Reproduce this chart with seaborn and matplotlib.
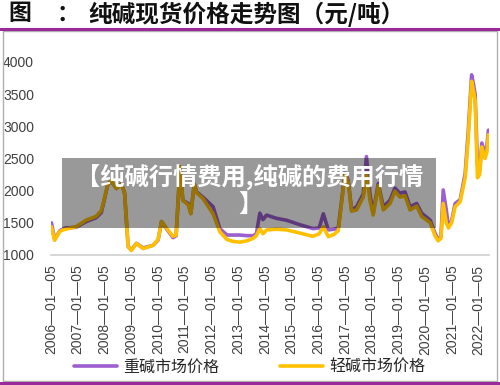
import matplotlib
matplotlib.use("Agg")
import matplotlib.pyplot as plt
from matplotlib.patches import Rectangle
from matplotlib.lines import Line2D
import pandas as pd
import seaborn as sns

# 纯碱现货价格（元/吨），读图估算
dates = [
    "2006-01-12", "2006-02-25", "2006-05-08", "2006-07-20", "2006-12-15",
    "2007-05-05", "2007-09-15", "2007-11-25", "2008-02-25", "2008-04-08",
    "2008-06-18", "2008-08-25", "2008-10-08", "2008-11-25", "2009-01-08",
    "2009-03-18", "2009-06-18", "2009-10-30", "2010-01-08", "2010-02-25",
    "2010-05-01", "2010-08-01", "2010-09-12", "2010-11-05", "2010-12-12",
    "2011-02-25", "2011-04-01", "2011-05-18", "2011-06-18", "2011-09-12",
    "2012-01-30", "2012-05-01", "2012-08-08", "2012-10-30", "2013-01-30",
    "2013-05-08", "2013-08-01", "2013-09-12", "2013-10-30", "2013-12-12",
    "2014-01-30", "2014-06-12", "2014-10-30", "2015-05-01", "2015-10-25",
    "2016-01-18", "2016-03-15", "2016-05-22", "2016-08-08", "2016-10-05",
    "2017-01-05", "2017-02-18", "2017-04-05", "2017-06-12", "2017-09-12",
    "2017-10-25", "2017-12-12", "2018-01-25", "2018-04-05", "2018-06-12",
    "2018-09-12", "2018-11-18", "2019-01-25", "2019-04-05", "2019-06-12",
    "2019-09-12", "2019-11-18", "2020-03-15", "2020-05-18", "2020-07-01",
    "2020-08-08", "2020-09-08", "2020-10-20", "2020-11-18", "2021-01-01",
    "2021-02-18", "2021-04-28", "2021-07-05", "2021-08-15", "2021-10-01",
    "2021-10-27", "2021-11-18", "2021-12-20", "2022-01-18", "2022-02-18",
    "2022-04-01", "2022-04-28", "2022-05-18",
]
heavy = [
    1500, 1240, 1380, 1420, 1430, 1520, 1580, 1660, 2110, 2140,
    2040, 2110, 1960, 1130, 1080, 1180, 1110, 1150, 1230, 1520,
    1410, 1270, 1300, 2370, 1850, 1800, 1650, 2100, 1980, 1900,
    1750, 1410, 1310, 1310, 1310, 1300, 1300, 1330, 1650, 1550,
    1620, 1570, 1540, 1470, 1410, 1420, 1640, 1390, 1400, 1420,
    2270, 2160, 1700, 1750, 1950, 2530, 1950, 1650, 2110, 1750,
    1850, 2040, 1960, 1980, 1750, 1800, 1650, 1540, 1340, 1240,
    1280, 2010, 1700, 1450, 1530, 1800, 1860, 2270, 2900, 3800,
    3650, 3500, 2400, 2300, 2740, 2560, 2700, 2940,
]
light = [
    1440, 1230, 1370, 1400, 1440, 1544, 1600, 1690, 2110, 2150,
    2030, 2100, 1960, 1130, 1070, 1180, 1100, 1150, 1240, 1520,
    1420, 1290, 1310, 2370, 1850, 1780, 1640, 2100, 1970, 1880,
    1640, 1360, 1240, 1210, 1200, 1220, 1260, 1300, 1410, 1330,
    1390, 1400, 1390, 1340, 1290, 1330, 1440, 1285, 1320, 1380,
    2250, 2130, 1680, 1700, 1900, 2270, 1850, 1620, 2080, 1700,
    1800, 1990, 1900, 1920, 1700, 1760, 1600, 1500, 1300, 1220,
    1260, 1800, 1500, 1420, 1500, 1750, 1830, 2200, 2800, 3700,
    3550, 3400, 2200, 2250, 2680, 2500, 2600, 2870,
]
tick_years = list(range(2006, 2023))

df = pd.DataFrame({"date": pd.to_datetime(dates), "重碱市场价格": heavy, "轻碱市场价格": light})
long_df = df.melt(id_vars="date", var_name="品种", value_name="价格")

sns.set_theme(style="white")
plt.rcParams["font.family"] = ["Liberation Sans", "Noto Sans CJK SC", "DejaVu Sans"]
cjk = ["Noto Sans CJK SC", "DejaVu Sans"]

purple = "#9b5fcf"
yellow = "#ffc000"

fig = plt.figure(figsize=(5, 3.85), dpi=100)
ax = fig.add_axes([0.1012, 0.3377, 0.8776, 0.5013])

sns.lineplot(data=long_df, x="date", y="价格", hue="品种",
             palette={"重碱市场价格": purple, "轻碱市场价格": yellow},
             linewidth=2.6, ax=ax, legend=False)

ax.set_xlim(pd.Timestamp("2006-01-01"), pd.Timestamp("2022-06-01"))
ax.set_ylim(1000, 4000)
ax.set_yticks([1000, 1500, 2000, 2500, 3000, 3500, 4000])
ticks = [pd.Timestamp(f"{y}-01-05") for y in tick_years]
ax.set_xticks(ticks)
ax.set_xticklabels([f"{y}—01—05" for y in tick_years], rotation=90, fontsize=10, color="#404040")
ax.tick_params(axis="y", labelsize=10, labelcolor="#404040", length=0, pad=12)
ax.tick_params(axis="x", length=5, width=1, color="#d0d0d0", direction="out", pad=2)
ax.set_xlabel("")
ax.set_ylabel("")
for s in ["top", "right", "left"]:
    ax.spines[s].set_visible(False)
ax.spines["bottom"].set_color("#d0d0d0")
ax.spines["bottom"].set_linewidth(1.2)

# 外框与标题
fig.add_artist(Rectangle((3 / 500, 1 - 381 / 385), 494 / 500, 350 / 385,
                         transform=fig.transFigure, fill=False, edgecolor="#b0b0b0", lw=1))
fig.add_artist(Line2D([0, 1], [1 - 29 / 385] * 2, transform=fig.transFigure, color="#9a2a9a", lw=2.2))
fig.add_artist(Line2D([0, 1], [1 - 383 / 385] * 2, transform=fig.transFigure, color="#9a2a9a", lw=2.2))
fig.text(8 / 500, 1 - 14 / 385, "图", family=cjk,
         fontsize=16.5, fontweight="bold", va="center", ha="left", color="#111111")
fig.text(68 / 500, 1 - 14 / 385, "：", family=cjk,
         fontsize=16.5, fontweight="bold", va="center", ha="center", color="#111111")
fig.text(88 / 500, 1 - 14 / 385, "纯碱现货价格走势图（元/吨）", family=cjk,
         fontsize=17, fontweight="bold", va="center", ha="left", color="#111111")

# 图例
handles = [Line2D([], [], color=purple, lw=2.6), Line2D([], [], color=yellow, lw=2.6)]
fig.legend(handles, ["重碱市场价格", "轻碱市场价格"], loc="center", ncol=2,
           bbox_to_anchor=(0.5, 1 - 367 / 385), frameon=False, handlelength=2.7,
           handletextpad=0.4, columnspacing=3.8, prop={"family": cjk, "size": 11.5})

# 水印
fig.add_artist(Rectangle((62 / 500, 1 - 228 / 385), 374 / 500, 70 / 385,
                         transform=fig.transFigure, facecolor="black", alpha=0.4, lw=0))
fig.text(250 / 500, 1 - 178 / 385, "【纯碱行情费用,纯碱的费用行情", family=cjk,
         fontsize=17.5, fontweight="bold", color="white", ha="center", va="center")
fig.text(250 / 500, 1 - 205 / 385, "】", family=cjk,
         fontsize=17.5, fontweight="bold", color="white", ha="center", va="center")

fig.savefig("out.png", dpi=100)
